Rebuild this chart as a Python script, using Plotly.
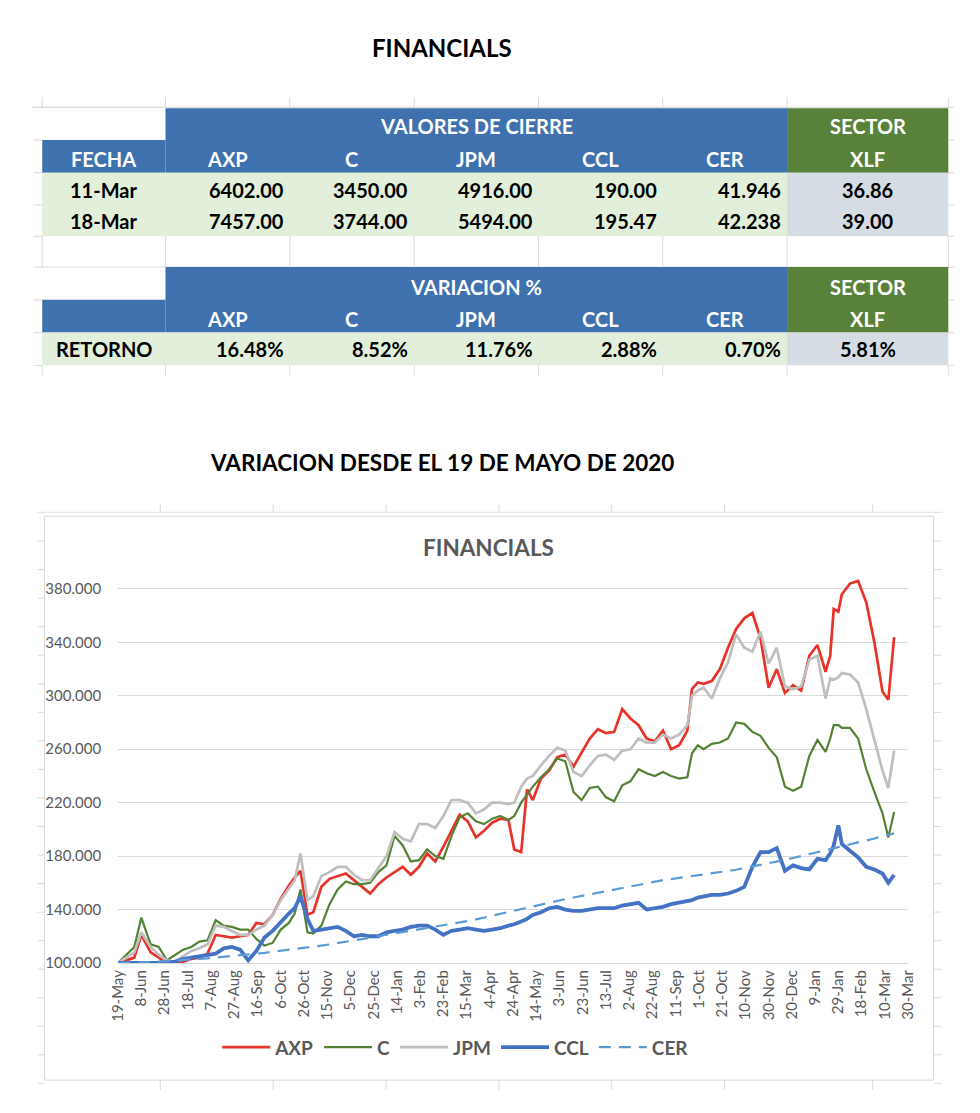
import plotly.graph_objects as go
import pandas as pd

# ---------------- DATA ----------------
inicio = "2020-05-19"
fin_eje = "2022-03-30"
dias = [0, 7, 14, 20, 28, 35, 42, 49, 56, 63,
        70, 77, 84, 91, 98, 105, 112, 119, 126, 133,
        140, 147, 152, 157, 163, 168, 175, 182, 189, 196,
        203, 210, 217, 224, 231, 238, 245, 252, 259, 266,
        273, 280, 287, 294, 301, 308, 315, 322, 329, 336,
        341, 347, 352, 357, 364, 371, 378, 385, 392, 399,
        406, 413, 420, 427, 434, 441, 448, 455, 462, 469,
        476, 483, 490, 494, 499, 504, 511, 518, 525, 532,
        539, 546, 553, 560, 567, 574, 581, 588, 595, 602,
        609, 613, 616, 620, 623, 630, 637, 644, 651, 658,
        663, 668]

axp = [100, 102, 104, 121, 108, 104, 100, 100, 101, 103,
       104, 107, 121, 120, 119, 120, 121, 130, 129, 136,
       148, 158, 164, 169, 136, 138, 157, 163, 165, 167,
       162, 157, 152, 159, 164, 168, 172, 166, 172, 182,
       176, 187, 199, 211, 206, 194, 199, 205, 208, 207,
       185, 183, 230, 222, 238, 244, 254, 256, 247, 258,
       268, 275, 272, 273, 290, 283, 278, 268, 266, 274,
       260, 263, 274, 305, 310, 309, 311, 320, 336, 350,
       358, 362, 343, 306, 320, 302, 308, 304, 330, 338,
       318, 330, 365, 363, 376, 384, 386, 370, 340, 303,
       297, 344]

c = [100, 106, 112, 134, 114, 112, 102, 106, 110, 112,
     116, 117, 132, 128, 127, 125, 125, 118, 113, 115,
     125, 130, 137, 155, 123, 122, 128, 144, 155, 161,
     159, 159, 160, 168, 173, 195, 188, 176, 177, 185,
     180, 178, 195, 209, 212, 206, 204, 208, 210, 207,
     210, 220, 226, 232, 239, 245, 253, 251, 228, 222,
     231, 232, 224, 221, 233, 236, 245, 242, 240, 243,
     240, 238, 239, 257, 263, 260, 264, 265, 268, 280,
     279, 273, 270, 261, 254, 232, 229, 232, 255, 267,
     258, 268, 278, 278, 276, 276, 268, 245, 228, 212,
     194, 213]

jpm = [100, 104, 108, 123, 112, 106, 102, 101, 105, 109,
       111, 114, 128, 127, 124, 121, 121, 125, 128, 136,
       147, 156, 162, 182, 147, 150, 165, 168, 172, 172,
       166, 162, 162, 171, 180, 198, 193, 191, 204, 204,
       201, 210, 222, 222, 220, 212, 215, 220, 220, 219,
       220, 232, 238, 240, 248, 255, 261, 259, 243, 240,
       248, 255, 256, 252, 259, 260, 268, 265, 265, 271,
       268, 271, 278, 300, 304, 306, 298, 313, 325, 346,
       336, 333, 348, 324, 336, 307, 305, 307, 327, 330,
       298, 313, 312, 314, 317, 316, 310, 290, 268, 244,
       231, 259]

ccl = [100, 100, 100, 100, 100, 100, 100, 101, 103, 104,
       105, 106, 107, 111, 112, 110, 102, 109, 119, 124,
       131, 137, 141, 150, 133, 124, 125, 126, 127, 124,
       120, 121, 120, 120, 123, 124, 125, 127, 128, 128,
       125, 121, 124, 125, 126, 125, 124, 125, 126, 128,
       129, 131, 133, 136, 138, 141, 142, 140, 139, 139,
       140, 141, 141, 141, 143, 144, 145, 140, 141, 142,
       144, 145, 146, 147, 149, 150, 151, 151, 152, 154,
       157, 172, 183, 183, 186, 169, 173, 171, 170, 178,
       177, 182, 188, 203, 189, 184, 179, 172, 170, 167,
       160, 166]

cer = [100.0, 100.0, 100.3, 100.5, 100.7, 101.0, 101.3, 101.7, 102.0, 102.5,
       103.0, 103.5, 104.0, 104.6, 105.2, 105.8, 106.4, 107.0, 107.6, 108.3,
       109.0, 109.8, 110.4, 111.0, 111.6, 112.2, 113.0, 113.9, 114.8, 115.7,
       116.8, 117.9, 119.0, 120.0, 121.0, 122.0, 123.0, 124.0, 125.0, 126.0,
       127.0, 128.0, 129.1, 130.2, 131.4, 132.6, 133.9, 135.2, 136.5, 137.8,
       139.0, 140.2, 141.3, 142.3, 143.8, 145.2, 146.6, 147.8, 149.0, 150.2,
       151.5, 152.8, 154.0, 155.0, 156.2, 157.3, 158.5, 159.7, 160.8, 162.0,
       162.8, 163.6, 164.5, 165.0, 165.6, 166.3, 167.2, 168.1, 168.9, 169.8,
       171.0, 172.1, 173.2, 174.5, 175.9, 177.2, 178.6, 180.0, 181.4, 182.8,
       184.2, 185.0, 185.6, 186.5, 187.1, 188.6, 190.1, 191.7, 193.2, 194.8,
       196.0, 197.0]

series_nombres = ["AXP", "C", "JPM", "CCL", "CER"]
y_ticks = [100, 140, 180, 220, 260, 300, 340, 380]
x_tick_paso_dias = 20

# table data
tabla_tickers = ["AXP", "C", "JPM", "CCL", "CER"]
tabla_sector = "XLF"
tabla_fechas = ["11-Mar", "18-Mar"]
cierre_11_mar = [6402.00, 3450.00, 4916.00, 190.00, 41.946]
cierre_18_mar = [7457.00, 3744.00, 5494.00, 195.47, 42.238]
decimales = [2, 2, 2, 2, 3]
xlf_cierre = [36.86, 39.00]
retorno_pct = [16.48, 8.52, 11.76, 2.88, 0.70]
xlf_retorno_pct = 5.81

# ---------------- LAYOUT HELPERS ----------------
PAGE_W, PAGE_H = 980, 1113
BODY_MARGIN = 8                      # default browser body margin
W, H = PAGE_W - 2 * BODY_MARGIN, PAGE_H - 2 * BODY_MARGIN
FONT = "Lato"
TS = 20  # table font size


def px(x):
    return (x - BODY_MARGIN) / W


def py(y):
    return 1 - (y - BODY_MARGIN) / H


fechas = pd.to_datetime(inicio) + pd.to_timedelta(dias, unit="D")

fig = go.Figure()
estilos = {
    "AXP": dict(color="#E8332A", width=2.7),
    "C": dict(color="#548235", width=2.2),
    "JPM": dict(color="#BFBFBF", width=2.7),
    "CCL": dict(color="#4472C4", width=3.8),
    "CER": dict(color="#5B9BD5", width=2.2, dash="12px,8px"),
}
for nombre, vals in zip(series_nombres, [axp, c, jpm, ccl, cer]):
    fig.add_trace(go.Scatter(x=fechas, y=vals, mode="lines", name=nombre,
                             line=estilos[nombre]))

shapes = []
annots = []


def rect(x0, y0, x1, y1, fill):
    shapes.append(dict(type="rect", xref="paper", yref="paper",
                       x0=px(x0), x1=px(x1), y0=py(y1), y1=py(y0),
                       fillcolor=fill, line=dict(width=0), layer="below"))


def hline(x0, x1, y, color="#D4D4D4", w=1):
    shapes.append(dict(type="line", xref="paper", yref="paper",
                       x0=px(x0), x1=px(x1), y0=py(y), y1=py(y),
                       line=dict(color=color, width=w), layer="below"))


def vline(x, y0, y1, color="#D4D4D4", w=1):
    shapes.append(dict(type="line", xref="paper", yref="paper",
                       x0=px(x), x1=px(x), y0=py(y0), y1=py(y1),
                       line=dict(color=color, width=w), layer="below"))


def text(t, x, y, size=TS, color="#000000", anchor="center", weight=700):
    annots.append(dict(text=t, x=px(x), y=py(y), xref="paper", yref="paper",
                       xanchor=anchor, yanchor="middle", showarrow=False,
                       font=dict(family=FONT, size=size, color=color, weight=weight)))


BLUE = "#3F71AE"
GREEN = "#58813A"
LGREEN = "#E2EFDA"
LGRAY = "#D6DCE4"

col_edges = [32.7, 158.3, 285.0, 411.7, 538.4, 665.0, 791.7, 956.0]
col_centers = [(a + b) / 2 for a, b in zip(col_edges[:-1], col_edges[1:])]

# spreadsheet grid (faint)
hline(22, 962, 108)
for xe in col_edges:
    vline(xe, 98, 108, "#DADADA")
    vline(xe, 238, 269, "#DADADA")
    vline(xe, 368, 378, "#DADADA")
for ye in [141, 174, 206.5, 238, 269, 302, 335, 368]:
    hline(24, 32.7, ye, "#DADADA")
    hline(956, 962, ye, "#DADADA")
hline(32.7, 956, 269, "#DADADA")

# block 1
rect(col_edges[1], 109, col_edges[6], 174, BLUE)
rect(col_edges[0], 141, col_edges[1], 174, BLUE)
rect(col_edges[6], 109, col_edges[7], 174, GREEN)
rect(col_edges[0], 174, col_edges[6], 238, LGREEN)
rect(col_edges[6], 174, col_edges[7], 238, LGRAY)
# block 2
rect(col_edges[1], 269, col_edges[6], 335, BLUE)
rect(col_edges[0], 302, col_edges[1], 335, BLUE)
rect(col_edges[6], 269, col_edges[7], 335, GREEN)
rect(col_edges[0], 335, col_edges[6], 368, LGREEN)
rect(col_edges[6], 335, col_edges[7], 368, LGRAY)

mid_val = (col_edges[1] + col_edges[6]) / 2
text("VALORES DE CIERRE", mid_val, 127, color="white")
text("SECTOR", col_centers[6], 127, color="white")
text("FECHA", col_centers[0], 160, color="white")
for i, t in enumerate(tabla_tickers):
    text(t, col_centers[i + 1], 160, color="white")
    text(t, col_centers[i + 1], 321, color="white")
text(tabla_sector, col_centers[6], 160, color="white")
text(tabla_sector, col_centers[6], 321, color="white")
text("VARIACION %", mid_val, 289, color="white")
text("SECTOR", col_centers[6], 289, color="white")

for r, (f, vals, xv) in enumerate(zip(tabla_fechas, [cierre_11_mar, cierre_18_mar], xlf_cierre)):
    yy = 191 + r * 32
    text(f, col_centers[0], yy)
    for i, (v, d) in enumerate(zip(vals, decimales)):
        text(f"{v:.{d}f}", col_edges[i + 2] - 4, yy, anchor="right")
    text(f"{xv:.2f}", col_centers[6], yy)

text("RETORNO", col_centers[0], 352)
for i, v in enumerate(retorno_pct):
    text(f"{v:.2f}%", col_edges[i + 2] - 4, 352, anchor="right")
text(f"{xlf_retorno_pct:.2f}%", col_centers[6], 352)

# titles
text("FINANCIALS", 440, 48, size=24)
text("VARIACION DESDE EL 19 DE MAYO DE 2020", 440, 466, size=22.5)
text("FINANCIALS", 487, 551, size=22.5, color="#595959")

# chart box + spreadsheet grid around it
shapes.append(dict(type="rect", xref="paper", yref="paper",
                   x0=px(35), x1=px(941), y0=py(1088), y1=py(520),
                   line=dict(color="#D9D9D9", width=1), layer="below"))
hline(28, 950, 516, "#E0E0E0")
for xe in [153, 268, 383, 498, 613, 728, 879]:
    vline(xe, 508, 516, "#DADADA")
    vline(xe, 1088, 1098, "#DADADA")
yy = 545
while yy < 1100:
    hline(28, 35, yy, "#DADADA")
    hline(941, 949, yy, "#DADADA")
    yy += 28.75

fig.update_layout(
    width=W, height=H, autosize=False,
    margin=dict(l=0, r=0, t=0, b=0),
    paper_bgcolor="white", plot_bgcolor="white",
    shapes=shapes, annotations=annots,
    showlegend=True,
    legend=dict(orientation="h", x=px(454), xanchor="center",
                y=py(1055), yanchor="middle",
                font=dict(family=FONT, size=19, color="#595959", weight=700),
                bgcolor="rgba(0,0,0,0)", itemwidth=48, tracegroupgap=0),
    xaxis=dict(domain=[px(110), px(915)], type="date",
               range=[inicio, fin_eje],
               tick0=inicio, dtick=x_tick_paso_dias * 86400000,
               tickformat="%-d-%b", tickangle=-90,
               tickfont=dict(family=FONT, size=15, color="#595959"),
               showgrid=False, zeroline=False, showline=True,
               linecolor="#D9D9D9", linewidth=1.3, ticks="",
               fixedrange=True),
    yaxis=dict(domain=[py(970), py(573)], range=[100, 395],
               tickvals=y_ticks, ticktext=[f"{v}.000" for v in y_ticks],
               tickfont=dict(family=FONT, size=15, color="#595959"),
               gridcolor="#D9D9D9", gridwidth=1.3, zeroline=False,
               showline=False, ticks="", ticklabelstandoff=16,
               fixedrange=True),
)

fig.write_html("out.html",
               config={"responsive": False, "displayModeBar": False})
